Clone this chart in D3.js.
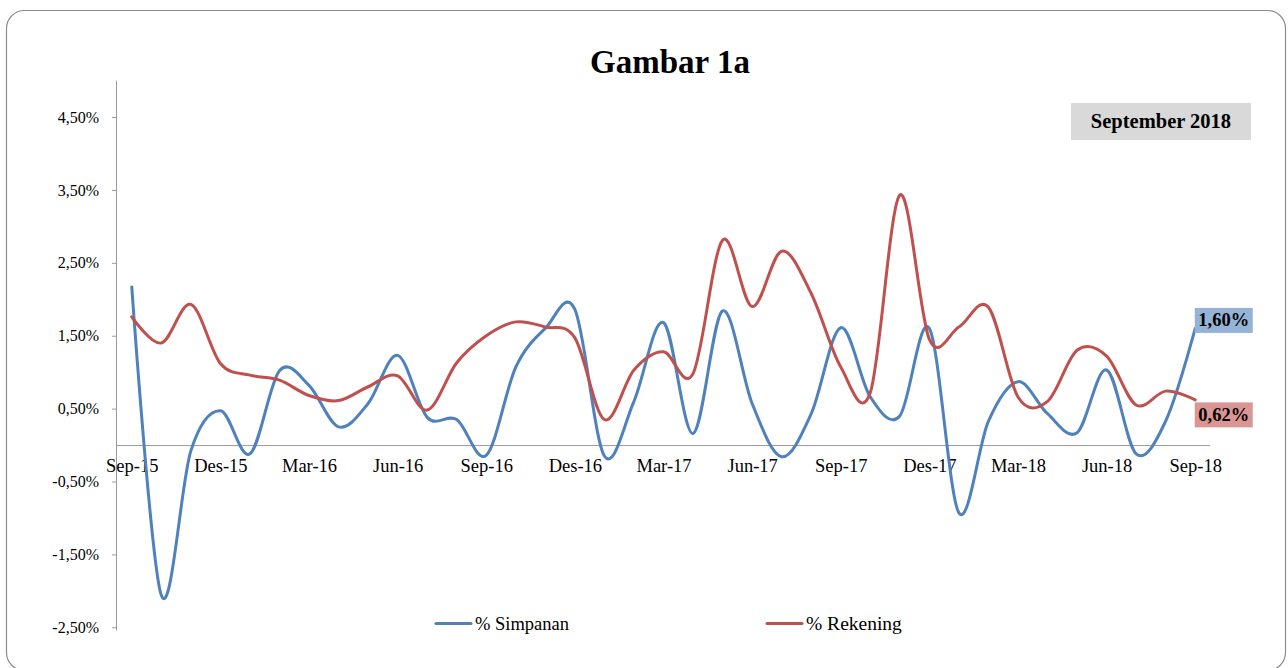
<!DOCTYPE html>
<html>
<head>
<meta charset="utf-8">
<script src="https://cdn.jsdelivr.net/npm/d3@7"></script>
<style>
  html, body { margin: 0; padding: 0; background: #fff; }
  svg { display: block; }
  text { font-family: "Liberation Serif", "Times New Roman", serif; fill: #000; }
</style>
</head>
<body>
<svg id="chart" width="1288" height="668"></svg>
<script>
// ---- data ----
const months = ["Sep-15","Okt-15","Nov-15","Des-15","Jan-16","Feb-16","Mar-16","Apr-16","Mei-16","Jun-16","Jul-16","Agu-16",
  "Sep-16","Okt-16","Nov-16","Des-16","Jan-17","Feb-17","Mar-17","Apr-17","Mei-17","Jun-17","Jul-17","Agu-17",
  "Sep-17","Okt-17","Nov-17","Des-17","Jan-18","Feb-18","Mar-18","Apr-18","Mei-18","Jun-18","Jul-18","Agu-18","Sep-18"];
const simpanan = [2.17,-2.06,-0.08,0.47,-0.12,1.02,0.82,0.25,0.57,1.23,0.38,0.35,
  -0.14,1.07,1.60,1.86,-0.15,0.60,1.68,0.16,1.84,0.57,-0.16,0.43,
  1.61,0.66,0.40,1.60,-0.93,0.33,0.87,0.43,0.17,1.03,-0.12,0.33,1.60];
const rekening = [1.76,1.40,1.93,1.12,0.96,0.89,0.68,0.61,0.80,0.95,0.48,1.13,
  1.50,1.69,1.62,1.47,0.35,1.03,1.28,0.98,2.81,1.90,2.66,2.08,
  1.07,0.72,3.43,1.45,1.62,1.89,0.66,0.60,1.30,1.22,0.55,0.74,0.62];
const xTickLabels = ["Sep-15","Des-15","Mar-16","Jun-16","Sep-16","Des-16","Mar-17","Jun-17","Sep-17","Des-17","Mar-18","Jun-18","Sep-18"];
const yTicks = [-2.5,-1.5,-0.5,0.5,1.5,2.5,3.5,4.5];
const seriesNames = ["% Simpanan","% Rekening"];
const seriesColors = ["#4F81BD","#C0504D"];
const lastLabels = ["1,60%","0,62%"];
const labelFills = ["#95B3D7","#D99694"];
const title = "Gambar 1a";
const badge = "September 2018";

// ---- layout ----
const svg = d3.select("#chart");
const plot = { left: 117, right: 1210, top: 80.6, bottom: 627.3 };

svg.append("rect")
  .attr("x", 6.5).attr("y", 10.5).attr("width", 1279).attr("height", 660)
  .attr("rx", 18).attr("ry", 18)
  .attr("fill", "#fff").attr("stroke", "#8c8c8c").attr("stroke-width", 1.2);

const x = d3.scalePoint().domain(months).range([plot.left, plot.right]).padding(0.5);
const y = d3.scaleLinear().domain([-2.5, 5.0]).range([plot.bottom, plot.top]);

// title
svg.append("text").attr("x", 670).attr("y", 73).attr("text-anchor", "middle")
  .attr("font-size", 33).attr("font-weight", "bold").text(title);

// y axis
const fmt = v => (v < 0 ? "-" : "") + Math.abs(v).toFixed(2).replace(".", ",") + "%";
const yAxis = d3.axisLeft(y).tickValues(yTicks).tickFormat(fmt).tickSize(5).tickPadding(13);
const gy = svg.append("g").attr("transform", `translate(${plot.left},0)`).call(yAxis);
gy.select(".domain").attr("stroke", "#9a9a9a").attr("d", `M-0.5,${plot.top}V${plot.bottom + 3}`);
gy.selectAll(".tick line").attr("stroke", "#9a9a9a");
gy.selectAll(".tick text").attr("font-size", 16).attr("font-family", "Liberation Serif, serif").attr("fill", "#000");

// x axis at zero
const xAxis = d3.axisBottom(x).tickValues(xTickLabels).tickSize(0).tickPadding(14);
const gx = svg.append("g").attr("transform", `translate(0,${y(0)})`).call(xAxis);
gx.select(".domain").attr("stroke", "#9a9a9a").attr("d", `M${plot.left},0.5H${plot.right}`);
gx.selectAll(".tick text").attr("font-size", 18.5).attr("font-family", "Liberation Serif, serif").attr("fill", "#000");

// lines
const line = d3.line().x((d, i) => x(months[i])).y(d => y(d)).curve(d3.curveCardinal.tension(0));
[simpanan, rekening].forEach((s, k) => {
  svg.append("path").datum(s).attr("d", line)
    .attr("fill", "none").attr("stroke", seriesColors[k]).attr("stroke-width", 3)
    .attr("stroke-linejoin", "round").attr("stroke-linecap", "round");
});

// end labels
const labelOffsets = [-8, 15];
[simpanan, rekening].forEach((s, k) => {
  const lx = x(months[months.length - 1]);
  const ly = y(s[s.length - 1]) + labelOffsets[k];
  const g = svg.append("g");
  g.append("rect").attr("x", lx - 0.5).attr("y", ly - 12.5).attr("width", 58).attr("height", 25)
    .attr("fill", labelFills[k]);
  g.append("text").attr("x", lx + 28.5).attr("y", ly + 6).attr("text-anchor", "middle")
    .attr("font-size", 18.5).attr("font-weight", "bold").text(lastLabels[k]);
});

// badge
svg.append("rect").attr("x", 1071).attr("y", 103).attr("width", 180).attr("height", 37).attr("fill", "#D9D9D9");
svg.append("text").attr("x", 1161).attr("y", 128).attr("text-anchor", "middle")
  .attr("font-size", 20.5).attr("font-weight", "bold").text(badge);

// legend
const legX = [436, 767];
const legSizes = [18.5, 19.5];
seriesNames.forEach((n, k) => {
  svg.append("line").attr("x1", legX[k]).attr("x2", legX[k] + 35).attr("y1", 623.5).attr("y2", 623.5)
    .attr("stroke", seriesColors[k]).attr("stroke-width", 3).attr("stroke-linecap", "round");
  svg.append("text").attr("x", legX[k] + 39).attr("y", 629.5).attr("font-size", legSizes[k]).text(n);
});
</script>
</body>
</html>
